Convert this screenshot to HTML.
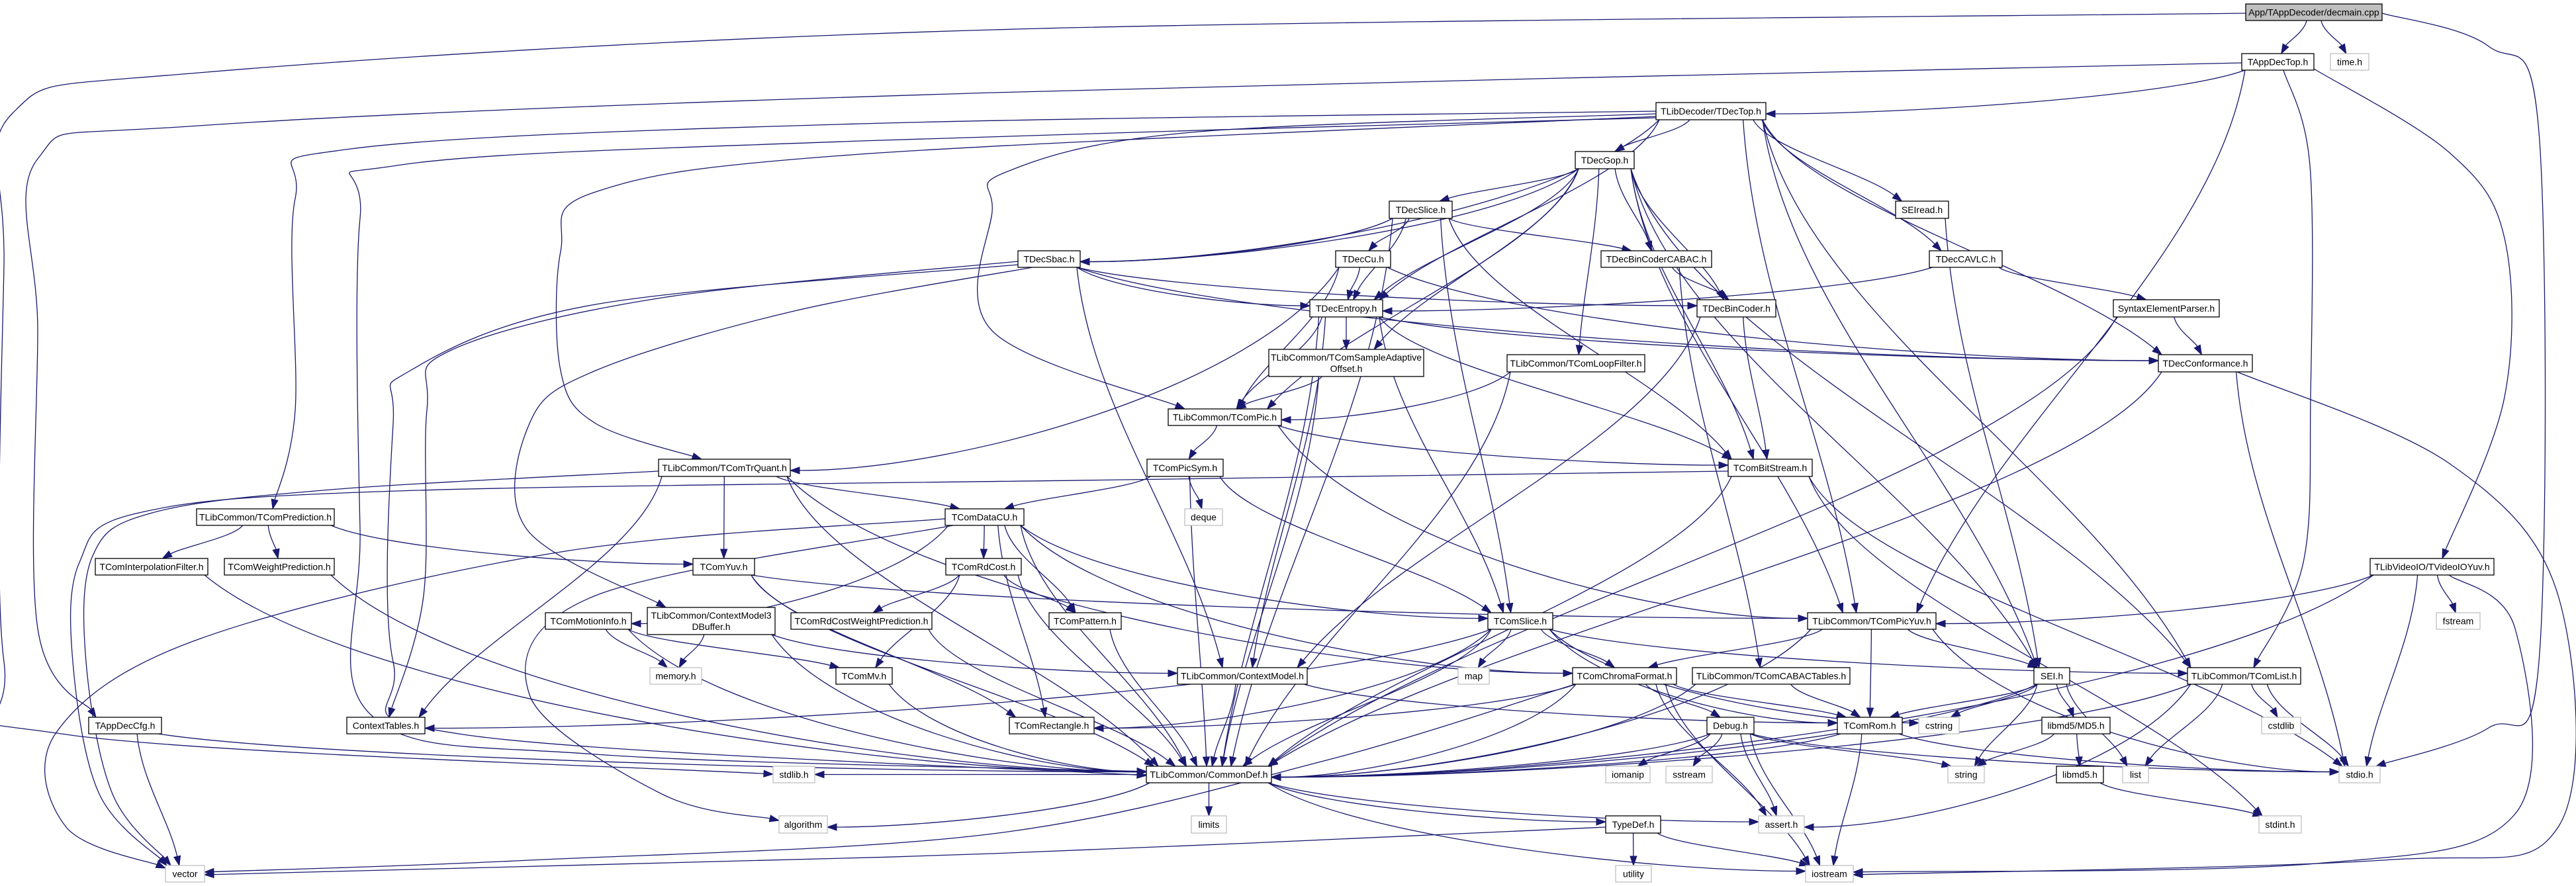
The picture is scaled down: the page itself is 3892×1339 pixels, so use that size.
<!DOCTYPE html>
<html><head><meta charset="utf-8">
<style>
html,body{margin:0;padding:0;background:#fff;}
svg{display:block;}
text{font-family:"Liberation Sans",Arial,sans-serif;font-size:14px;fill:#000;text-anchor:middle;}
.n{fill:#fff;stroke:#000;stroke-width:1.3;}
.s{fill:#fff;stroke:#bfbfbf;stroke-width:1.3;}
.g{fill:#bfbfbf;stroke:#000;stroke-width:1.3;}
#edges path{fill:none;stroke:#191970;stroke-width:1.3;}
#edges polygon{fill:#191970;stroke:#191970;stroke-width:1;}
</style></head>
<body>
<svg id="svg" width="3892" height="1339" viewBox="0 0 3892 1339" xmlns="http://www.w3.org/2000/svg">
<g id="edges"></g>
<g id="nodes">
<rect id="decmain" class="g" x="3393" y="6" width="206" height="25"/><text x="3496" y="23.5">App/TAppDecoder/decmain.cpp</text>
<rect id="appdectop" class="n" x="3387" y="81" width="109" height="25"/><text x="3441.5" y="98.5">TAppDecTop.h</text>
<rect id="time" class="s" x="3521" y="81" width="58" height="25"/><text x="3550" y="98.5">time.h</text>
<rect id="dectop" class="n" x="2502" y="155" width="166" height="26"/><text x="2585" y="173">TLibDecoder/TDecTop.h</text>
<rect id="decgop" class="n" x="2380" y="229" width="89" height="26"/><text x="2424.5" y="247">TDecGop.h</text>
<rect id="decslice" class="n" x="2099" y="304" width="95" height="26"/><text x="2146.5" y="322">TDecSlice.h</text>
<rect id="seiread" class="n" x="2864" y="304" width="80" height="26"/><text x="2904" y="322">SEIread.h</text>
<rect id="decsbac" class="n" x="1538" y="379" width="94" height="25"/><text x="1585" y="396.5">TDecSbac.h</text>
<rect id="deccu" class="n" x="2018" y="379" width="83" height="25"/><text x="2059.5" y="396.5">TDecCu.h</text>
<rect id="cabac" class="n" x="2419" y="379" width="167" height="25"/><text x="2502.5" y="396.5">TDecBinCoderCABAC.h</text>
<rect id="cavlc" class="n" x="2915" y="379" width="110" height="25"/><text x="2970" y="396.5">TDecCAVLC.h</text>
<rect id="entropy" class="n" x="1979" y="453" width="110" height="26"/><text x="2034" y="471">TDecEntropy.h</text>
<rect id="bincoder" class="n" x="2564" y="453" width="119" height="26"/><text x="2623.5" y="471">TDecBinCoder.h</text>
<rect id="sep" class="n" x="3193" y="453" width="160" height="26"/><text x="3273" y="471">SyntaxElementParser.h</text>
<rect id="sao" class="n" x="1917" y="528" width="234" height="41"/><text x="2034" y="545">TLibCommon/TComSampleAdaptive</text><text x="2034" y="562">Offset.h</text>
<rect id="loop" class="n" x="2277" y="536" width="208" height="26"/><text x="2381" y="554">TLibCommon/TComLoopFilter.h</text>
<rect id="conf" class="n" x="3261" y="536" width="142" height="26"/><text x="3332" y="554">TDecConformance.h</text>
<rect id="pic" class="n" x="1765" y="618" width="171" height="25"/><text x="1850.5" y="635.5">TLibCommon/TComPic.h</text>
<rect id="picsym" class="n" x="1733" y="694" width="115" height="26"/><text x="1790.5" y="712">TComPicSym.h</text>
<rect id="trquant" class="n" x="995" y="694" width="199" height="26"/><text x="1094.5" y="712">TLibCommon/TComTrQuant.h</text>
<rect id="bitstream" class="n" x="2611" y="694" width="127" height="26"/><text x="2674.5" y="712">TComBitStream.h</text>
<rect id="deque" class="s" x="1790" y="769" width="57" height="25"/><text x="1818.5" y="786.5">deque</text>
<rect id="pred" class="n" x="297" y="769" width="208" height="25"/><text x="401" y="786.5">TLibCommon/TComPrediction.h</text>
<rect id="datacu" class="n" x="1428" y="769" width="119" height="25"/><text x="1487.5" y="786.5">TComDataCU.h</text>
<rect id="videoio" class="n" x="3581" y="844" width="187" height="25"/><text x="3674.5" y="861.5">TLibVideoIO/TVideoIOYuv.h</text>
<rect id="interp" class="n" x="144" y="844" width="170" height="25"/><text x="229" y="861.5">TComInterpolationFilter.h</text>
<rect id="weight" class="n" x="339" y="844" width="166" height="25"/><text x="422" y="861.5">TComWeightPrediction.h</text>
<rect id="yuv" class="n" x="1047" y="844" width="93" height="25"/><text x="1093.5" y="861.5">TComYuv.h</text>
<rect id="rdcost" class="n" x="1429" y="844" width="114" height="25"/><text x="1486" y="861.5">TComRdCost.h</text>
<rect id="picyuv" class="n" x="2731" y="926" width="194" height="25"/><text x="2828" y="943.5">TLibCommon/TComPicYuv.h</text>
<rect id="fstream" class="s" x="3681" y="926" width="66" height="25"/><text x="3714" y="943.5">fstream</text>
<rect id="motion" class="n" x="824" y="926" width="130" height="25"/><text x="889" y="943.5">TComMotionInfo.h</text>
<rect id="cm3d" class="n" x="978" y="918" width="193" height="41"/><text x="1074.5" y="935">TLibCommon/ContextModel3</text><text x="1074.5" y="952">DBuffer.h</text>
<rect id="rdcwp" class="n" x="1195" y="926" width="213" height="25"/><text x="1301.5" y="943.5">TComRdCostWeightPrediction.h</text>
<rect id="pattern" class="n" x="1585" y="926" width="109" height="25"/><text x="1639.5" y="943.5">TComPattern.h</text>
<rect id="slice" class="n" x="2248" y="926" width="98" height="25"/><text x="2297" y="943.5">TComSlice.h</text>
<rect id="memory" class="s" x="982" y="1009" width="78" height="25"/><text x="1021" y="1026.5">memory.h</text>
<rect id="mv" class="n" x="1263" y="1009" width="85" height="25"/><text x="1305.5" y="1026.5">TComMv.h</text>
<rect id="cm" class="n" x="1779" y="1009" width="196" height="25"/><text x="1877" y="1026.5">TLibCommon/ContextModel.h</text>
<rect id="map" class="s" x="2203" y="1009" width="47" height="25"/><text x="2226.5" y="1026.5">map</text>
<rect id="chroma" class="n" x="2376" y="1009" width="157" height="25"/><text x="2454.5" y="1026.5">TComChromaFormat.h</text>
<rect id="cabactab" class="n" x="2557" y="1009" width="238" height="25"/><text x="2676" y="1026.5">TLibCommon/TComCABACTables.h</text>
<rect id="sei" class="n" x="3073" y="1009" width="54" height="25"/><text x="3100" y="1026.5">SEI.h</text>
<rect id="list_h" class="n" x="3305" y="1009" width="171" height="25"/><text x="3390.5" y="1026.5">TLibCommon/TComList.h</text>
<rect id="cstdlib" class="s" x="3417" y="1084" width="59" height="25"/><text x="3446.5" y="1101.5">cstdlib</text>
<rect id="cfg" class="n" x="134" y="1084" width="110" height="25"/><text x="189" y="1101.5">TAppDecCfg.h</text>
<rect id="ctxtab" class="n" x="524" y="1084" width="118" height="25"/><text x="583" y="1101.5">ContextTables.h</text>
<rect id="rect" class="n" x="1525" y="1084" width="128" height="25"/><text x="1589" y="1101.5">TComRectangle.h</text>
<rect id="rom" class="n" x="2776" y="1084" width="98" height="25"/><text x="2825" y="1101.5">TComRom.h</text>
<rect id="cstring" class="s" x="2899" y="1084" width="61" height="25"/><text x="2929.5" y="1101.5">cstring</text>
<rect id="md5" class="n" x="3085" y="1084" width="103" height="25"/><text x="3136.5" y="1101.5">libmd5/MD5.h</text>
<rect id="debug" class="n" x="2579" y="1084" width="71" height="25"/><text x="2614.5" y="1101.5">Debug.h</text>
<rect id="common" class="n" x="1732" y="1158" width="189" height="25"/><text x="1826.5" y="1175.5">TLibCommon/CommonDef.h</text>
<rect id="stdlib" class="s" x="1168" y="1158" width="63" height="25"/><text x="1199.5" y="1175.5">stdlib.h</text>
<rect id="list" class="s" x="3207" y="1158" width="39" height="25"/><text x="3226.5" y="1175.5">list</text>
<rect id="stdio" class="s" x="3534" y="1158" width="62" height="25"/><text x="3565" y="1175.5">stdio.h</text>
<rect id="libmd5" class="n" x="3107" y="1158" width="71" height="25"/><text x="3142.5" y="1175.5">libmd5.h</text>
<rect id="iomanip" class="s" x="2426" y="1158" width="67" height="25"/><text x="2459.5" y="1175.5">iomanip</text>
<rect id="sstream" class="s" x="2517" y="1158" width="70" height="25"/><text x="2552" y="1175.5">sstream</text>
<rect id="string" class="s" x="2943" y="1158" width="55" height="25"/><text x="2970.5" y="1175.5">string</text>
<rect id="algorithm" class="s" x="1177" y="1233" width="73" height="26"/><text x="1213.5" y="1251">algorithm</text>
<rect id="limits" class="s" x="1800" y="1233" width="53" height="26"/><text x="1826.5" y="1251">limits</text>
<rect id="typedef" class="n" x="2426" y="1233" width="83" height="26"/><text x="2467.5" y="1251">TypeDef.h</text>
<rect id="assert" class="s" x="2657" y="1233" width="69" height="26"/><text x="2691.5" y="1251">assert.h</text>
<rect id="stdint" class="s" x="3413" y="1233" width="64" height="26"/><text x="3445" y="1251">stdint.h</text>
<rect id="vector" class="s" x="250" y="1308" width="59" height="25"/><text x="279.5" y="1325.5">vector</text>
<rect id="utility" class="s" x="2441" y="1308" width="54" height="25"/><text x="2468" y="1325.5">utility</text>
<rect id="iostream" class="s" x="2728" y="1308" width="72" height="25"/><text x="2764" y="1325.5">iostream</text>
</g>
</svg>
<script>
(function(){
var E=[
['decmain','appdectop'],['decmain','time'],
['decmain','stdio',[[3599,20],[3760,70],[3836,200],[3836,1000],[3760,1100],[3590,1158]]],
['decmain','stdlib',[[3393,20],[1500,45],[300,110],[20,170],[6,400],[6,1000],[100,1110],[1168,1170]]],
['appdectop','dectop'],
['appdectop','cfg',[[3387,95],[1500,140],[300,190],[57,240],[57,500],[57,950],[145,1084]]],
['appdectop','picyuv'],
['appdectop','list_h',[[3450,106],[3490,250],[3491,600],[3480,850],[3405,1009]]],
['appdectop','videoio',[[3496,104],[3700,230],[3784,360],[3784,600],[3690,844]]],
['dectop','decgop'],['dectop','seiread'],['dectop','cavlc'],['dectop','decsbac'],['dectop','entropy'],
['dectop','pic',[[2502,172],[1800,200],[1520,260],[1499,320],[1499,500],[1790,618]]],
['dectop','picyuv'],['dectop','list_h'],['dectop','sei'],['dectop','conf'],
['dectop','pred',[[2502,168],[1300,187],[530,225],[446,300],[446,620],[412,769]]],
['dectop','trquant',[[2502,176],[1300,233],[900,290],[847,380],[847,560],[900,640],[1060,694]]],
['dectop','common',[[2502,178],[1300,213],[600,250],[544,330],[544,800],[560,1080],[900,1140],[1732,1166]]],
['decgop','decslice'],['decgop','entropy'],['decgop','cabac'],['decgop','bincoder'],['decgop','loop'],
['decgop','sao'],['decgop','pic'],['decgop','picyuv'],['decgop','bitstream'],['decgop','sei'],['decgop','list_h'],
['decgop','decsbac'],
['decslice','decsbac'],['decslice','deccu'],['decslice','entropy'],['decslice','cabac'],['decslice','bitstream'],
['decslice','slice'],['decslice','common'],
['decsbac','entropy'],['decsbac','bincoder'],['decsbac','conf'],
['decsbac','ctxtab',[[1538,395],[1000,450],[680,530],[645,620],[640,900],[588,1084]]],
['decsbac','common',[[1538,400],[900,460],[620,560],[594,640],[594,1000],[700,1110],[1732,1172]]],
['decsbac','cm'],['decsbac','cm3d',[[1560,404],[1200,470],[900,560],[800,640],[796,800],[1006,918]]],
['deccu','entropy'],['deccu','trquant'],['deccu','pic'],['deccu','conf'],
['cabac','bincoder'],['cabac','cabactab'],
['cavlc','entropy'],['cavlc','sep'],
['seiread','sei'],
['entropy','sao'],['entropy','pic'],['entropy','conf'],['entropy','bitstream'],['entropy','slice'],['entropy','common'],['entropy','cm'],
['bincoder','bitstream'],['bincoder','cm'],
['sep','conf'],['sep','common'],
['sao','pic'],['sao','common'],
['loop','pic'],['loop','common'],
['conf','common'],['conf','stdio'],
['conf','iostream',[[3380,562],[3700,700],[3865,900],[3865,1250],[3600,1300],[2800,1322]]],
['pic','picsym'],['pic','bitstream'],['pic','picyuv'],
['picsym','datacu'],['picsym','deque'],['picsym','slice'],['picsym','common'],
['trquant','datacu'],['trquant','yuv'],['trquant','ctxtab'],['trquant','common'],['trquant','chroma'],
['trquant','vector',[[995,712],[500,740],[230,775],[140,840],[130,1000],[170,1200],[258,1308]]],
['bitstream','stdio'],['bitstream','stdint'],['bitstream','common'],
['bitstream','vector',[[2611,712],[1700,725],[600,742],[210,775],[120,850],[110,1000],[150,1200],[252,1308]]],
['pred','interp'],['pred','weight'],['pred','yuv'],
['datacu','rdcost'],['datacu','pattern'],['datacu','motion'],['datacu','slice'],['datacu','chroma'],['datacu','common'],['datacu','rect'],
['datacu','vector',[[1428,784],[848,834],[303,965],[85,1107],[100,1250],[250,1312]]],
['datacu','algorithm',[[1440,794],[900,900],[800,1050],[1000,1200],[1177,1240]]],
['interp','common'],['weight','common'],
['yuv','picyuv'],['yuv','rect'],['yuv','common'],
['rdcost','rdcwp'],['rdcost','pattern'],['rdcost','mv'],['rdcost','common'],
['videoio','picyuv'],['videoio','fstream'],['videoio','stdio'],['videoio','common'],
['videoio','iostream',[[3700,869],[3800,950],[3800,1230],[3500,1305],[2800,1318]]],
['picyuv','chroma'],['picyuv','rom'],['picyuv','sei'],['picyuv','stdio'],['picyuv','common'],
['motion','memory'],['motion','mv'],['motion','common'],
['cm3d','memory'],['cm3d','cm'],['cm3d','common'],
['rdcwp','common'],['pattern','common'],
['slice','map'],['slice','chroma'],['slice','list_h'],['slice','rom'],['slice','common'],['slice','ctxtab'],['slice','rect'],['slice','cstring'],
['mv','common'],['cm','common'],['cm','rom'],
['chroma','common'],['chroma','debug'],['chroma','rom'],['chroma','assert'],['chroma','iostream'],['chroma','rect'],
['chroma','vector',[[2380,1034],[2000,1150],[1500,1260],[800,1300],[309,1318]]],
['cabactab','rom'],['cabactab','common'],
['sei','cstring'],['sei','list'],['sei','md5'],['sei','rom'],['sei','common'],['sei','string'],
['list_h','cstdlib'],['list_h','list'],['list_h','assert'],['list_h','stdio'],['list_h','common'],
['cfg','common'],['cfg','vector'],
['rom','common'],['rom','iostream'],['rom','stdio'],
['md5','libmd5'],['md5','string'],
['debug','iomanip'],['debug','sstream'],['debug','string'],['debug','iostream'],['debug','common'],['debug','assert'],['debug','stdio'],
['common','algorithm'],['common','limits'],['common','typedef'],['common','assert'],['common','iostream'],['common','stdlib'],
['libmd5','stdint'],
['typedef','utility'],['typedef','iostream'],
['typedef','vector',[[2426,1250],[1500,1290],[700,1312],[309,1322]]]
];
var NS='http://www.w3.org/2000/svg',G=document.getElementById('edges');
function B(id){var r=document.getElementById(id);return{x:+r.getAttribute('x'),y:+r.getAttribute('y'),w:+r.getAttribute('width'),h:+r.getAttribute('height')};}
function cl(v,a,b){return Math.max(a,Math.min(b,v));}
function f(n){return n.toFixed(1);}
function arrow(ex,ey,cx,cy){var dx=ex-cx,dy=ey-cy,L=Math.sqrt(dx*dx+dy*dy)||1;dx/=L;dy/=L;var AL=14,AW=5;
var bx=ex-dx*AL,by=ey-dy*AL;var p=document.createElementNS(NS,'polygon');
p.setAttribute('points',f(ex)+','+f(ey)+' '+f(bx-dy*AW)+','+f(by+dx*AW)+' '+f(bx+dy*AW)+','+f(by-dx*AW));G.appendChild(p);return[bx,by];}
function path(d){var p=document.createElementNS(NS,'path');p.setAttribute('d',d);G.appendChild(p);}
E.forEach(function(e){
 var S=B(e[0]),T=B(e[1]);
 if(e[2]){var P=e[2],n=P.length;
  var last=P[n-1],pl=P[n-2];
  var segs=[];
  for(var i=0;i<n-1;i++){var p0=P[i-1]||P[i],p1=P[i],p2=P[i+1],p3=P[i+2]||P[i+1];
   segs.push([p1[0]+(p2[0]-p0[0])/6,p1[1]+(p2[1]-p0[1])/6,p2[0]-(p3[0]-p1[0])/6,p2[1]-(p3[1]-p1[1])/6,p2[0],p2[1]]);}
  var s=segs[segs.length-1];var b=arrow(s[4],s[5],s[2],s[3]);s[4]=b[0];s[5]=b[1];
  var d='M'+P[0][0]+','+P[0][1];segs.forEach(function(q){d+=' C'+q.map(f).join(',');});path(d);return;}
 var scx=S.x+S.w/2,tcx=T.x+T.w/2,sy=S.y+S.h,ty=T.y,dy=ty-sy,sx,tx,c1x,c1y,c2x,c2y;
 if(dy<20){var r=tcx>scx;sx=r?S.x+S.w:S.x;tx=r?T.x:T.x+T.w;sy=S.y+S.h/2;ty=T.y+T.h/2;
  var m=(tx-sx)*0.4;c1x=sx+m;c1y=sy;c2x=tx-m;c2y=ty;}
 else{sx=scx+cl((tcx-scx)*0.2,-(S.w/2-5),S.w/2-5);var dx=tcx-sx;
  if(Math.abs(dx)>3*dy&&Math.abs(dx)>400){var r2=tcx>sx;tx=r2?T.x:T.x+T.w;ty=T.y+T.h/2+(r2?-4:4);
   c1x=sx+(tx-sx)*0.15;c1y=sy+(ty-sy)*0.6;c2x=tx-(tx-sx)*0.3;c2y=ty;}
  else{tx=tcx+cl((sx-tcx)*0.12,-(T.w/2-5),T.w/2-5);
   c1x=sx+(tx-sx)*0.1;c1y=sy+dy*0.35;c2x=tx+(sx-tx)*0.25;c2y=ty-dy*0.35;}}
 var b=arrow(tx,ty,c2x,c2y);
 path('M'+f(sx)+','+f(sy)+' C'+f(c1x)+','+f(c1y)+' '+f(c2x)+','+f(c2y)+' '+f(b[0])+','+f(b[1]));
});
})();
</script>
</body></html>
